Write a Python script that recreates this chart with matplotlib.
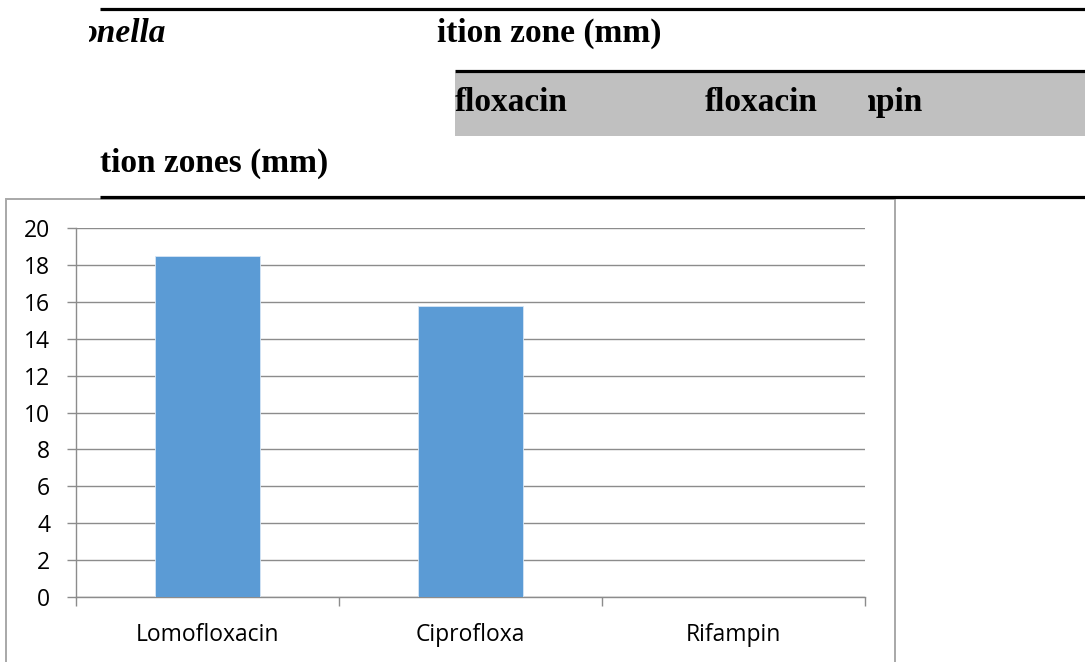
import numpy as np
import matplotlib
matplotlib.use("Agg")
import matplotlib.pyplot as plt
from matplotlib.lines import Line2D
from matplotlib.patches import Rectangle

# inhibition zones (mm)
drugs = ["Lomofloxacin", "Ciprofloxa", "Rifampin"]
zones = [18.5, 15.75, 0]
yticks = [0, 2, 4, 6, 8, 10, 12, 14, 16, 18, 20]

W, H = 1085, 662
fig = plt.figure(figsize=(W / 100, H / 100), dpi=100)

def fx(x):
    return x / W

def fy(y):
    return 1 - y / H

# page fragment above the chart
serif = "Liberation Serif"

def rule(x0, x1, y):
    fig.add_artist(Line2D([fx(x0), fx(x1)], [fy(y), fy(y)], color="black",
                          lw=2.3, solid_capstyle="butt", transform=fig.transFigure))

rule(100, W, 9)
rule(455, W, 71)
fig.add_artist(Rectangle((fx(455), fy(136)), fx(W - 455), (136 - 73) / H,
                         transform=fig.transFigure, color="#c0c0c0", lw=0))

def head(x, y, s, clip_x=None, style="normal"):
    t = fig.text(fx(x), fy(y), s, fontsize=24, fontweight="bold", family=serif,
                 style=style, ha="left", va="baseline")
    if clip_x is not None:
        clip = Rectangle((fx(clip_x), 0), 1, 1, transform=fig.transFigure)
        t.set_clip_path(clip)
    return t

head(80, 42, "onella", clip_x=89, style="italic")
head(437, 42, "ition zone (mm)")
head(455, 111, "floxacin")
head(705, 111, "floxacin")
head(848, 111, "mpin", clip_x=868)
head(100, 172, "tion zones (mm)")

# chart frame
fig.add_artist(Rectangle((fx(6), -0.05), fx(895 - 6), fy(199) + 0.05,
                         transform=fig.transFigure, fill=False,
                         edgecolor="#a8a8a8", lw=1.4))
rule(100, W, 197)

ax = fig.add_axes([fx(76), fy(597), fx(865 - 76), (597 - 228) / H])
x = np.arange(len(drugs))
ax.bar(x, zones, width=0.4, color="#5b9bd5", edgecolor="#d6e6f5", lw=0.6, zorder=3)

ax.set_xlim(-0.5, len(drugs) - 0.5)
ax.set_ylim(0, 20)
ax.set_yticks(yticks)
ax.set_yticklabels([str(v) for v in yticks])
ax.set_xticks(x)
ax.set_xticklabels(drugs)
ax.set_xticks(np.arange(len(drugs) + 1) - 0.5, minor=True)

grid_c = "#8c8c8c"
ax.grid(axis="y", color=grid_c, lw=1.0, zorder=0)
for side in ["top", "right"]:
    ax.spines[side].set_visible(False)
for side in ["left", "bottom"]:
    ax.spines[side].set_color(grid_c)
    ax.spines[side].set_linewidth(1.0)

ax.tick_params(axis="y", which="major", length=6.5, width=1.0, color=grid_c,
               pad=12, labelsize=16.5, labelcolor="black")
ax.tick_params(axis="x", which="major", length=0, pad=19, labelsize=16.5,
               labelcolor="black")
ax.tick_params(axis="x", which="minor", length=6.5, width=1.0, color=grid_c)
for lab in ax.get_xticklabels() + ax.get_yticklabels():
    lab.set_family("Open Sans")

fig.savefig("out.png", dpi=100)
